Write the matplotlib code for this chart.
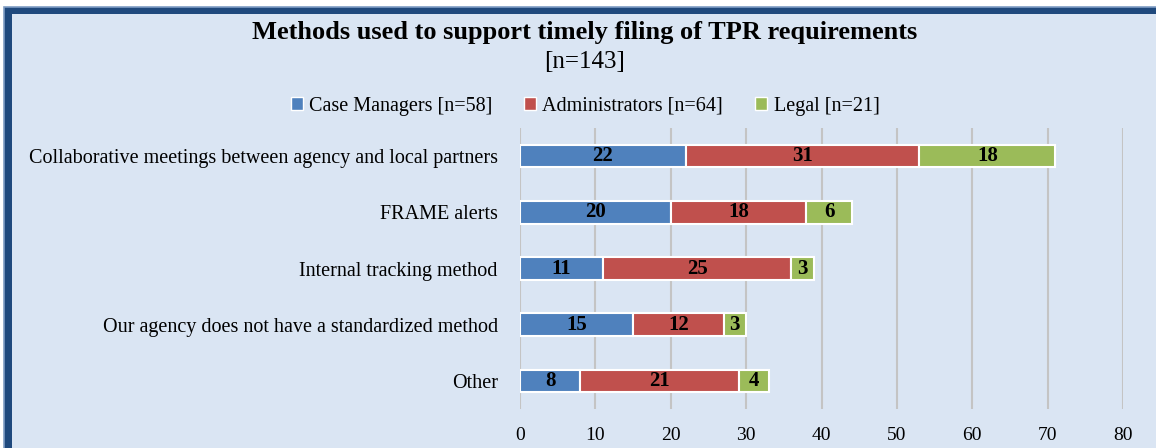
import matplotlib
matplotlib.use("Agg")
import matplotlib.pyplot as plt
from matplotlib.patches import Rectangle, Patch
import numpy as np

categories = [
    "Collaborative meetings between agency and local partners",
    "FRAME alerts",
    "Internal tracking method",
    "Our agency does not have a standardized method",
    "Other",
]
case_managers = [22, 20, 11, 15, 8]
administrators = [31, 18, 25, 12, 21]
legal = [18, 6, 3, 3, 4]
series_names = ["Case Managers [n=58]", "Administrators [n=64]", "Legal [n=21]"]
colors = ["#4F81BD", "#C0504D", "#9BBB59"]
xticks = [0, 10, 20, 30, 40, 50, 60, 70, 80]

W, H = 1156, 448
plt.rcParams["font.family"] = ["Liberation Serif", "DejaVu Serif"]
fig = plt.figure(figsize=(W / 100, H / 100), dpi=100)
fig.patch.set_facecolor("white")

def fx(px):
    return px / W

def fy(py):
    return 1 - py / H

# border frame
fig.patches.append(Rectangle((fx(4), -0.1), 1.2, fy(7) + 0.1, transform=fig.transFigure,
                             facecolor="#1F497D", edgecolor="#7F9DC4", linewidth=1.2, zorder=-2))
fig.patches.append(Rectangle((fx(12), -0.1), 1.2, fy(14) + 0.1, transform=fig.transFigure,
                             facecolor="#DAE5F3", edgecolor="none", zorder=-1))

ax = fig.add_axes([fx(520), fy(409), fx(1123) - fx(520), fy(128) - fy(409)])
ax.set_facecolor("none")
ax.set_zorder(1)

y = np.arange(len(categories))
left = np.zeros(len(categories))
for vals, name, c in zip([case_managers, administrators, legal], series_names, colors):
    vals = np.array(vals, dtype=float)
    bars = ax.barh(y, vals, left=left, height=0.4, color=c, edgecolor="white",
                   linewidth=1.5, label=name, zorder=3)
    for b, v in zip(bars, vals):
        ax.text(b.get_x() + b.get_width() / 2, b.get_y() + b.get_height() / 2, f"{int(v)}",
                ha="center", va="center", fontsize=15, fontweight="bold", color="black", zorder=4)
    left += vals

ax.set_ylim(4.5, -0.5)
ax.set_xlim(0, 80)
ax.set_xticks(xticks)
ax.set_xticklabels([str(t) for t in xticks], fontsize=14)
ax.set_yticks(y)
ax.set_yticklabels(categories, fontsize=14.5)
ax.tick_params(axis="x", length=0, pad=13)
ax.tick_params(axis="y", length=0, pad=16)
ax.grid(axis="x", color="#C4C4C4", linewidth=1.5, zorder=0)
for s in ax.spines.values():
    s.set_visible(False)

fig.text(fx(585), fy(32), "Methods used to support timely filing of TPR requirements",
         ha="center", va="center", fontsize=19, fontweight="bold")
fig.text(fx(585), fy(62), "[n=143]", ha="center", va="center", fontsize=18)

handles = [Patch(facecolor=c, edgecolor="white", linewidth=1) for c in colors]
fig.legend(handles, series_names, loc="center", bbox_to_anchor=(fx(585), fy(106)),
           ncol=3, frameon=False, fontsize=14.5, handlelength=0.6, handleheight=0.6,
           handletextpad=0.3, columnspacing=1.6)

fig.savefig("out.png", dpi=100)
